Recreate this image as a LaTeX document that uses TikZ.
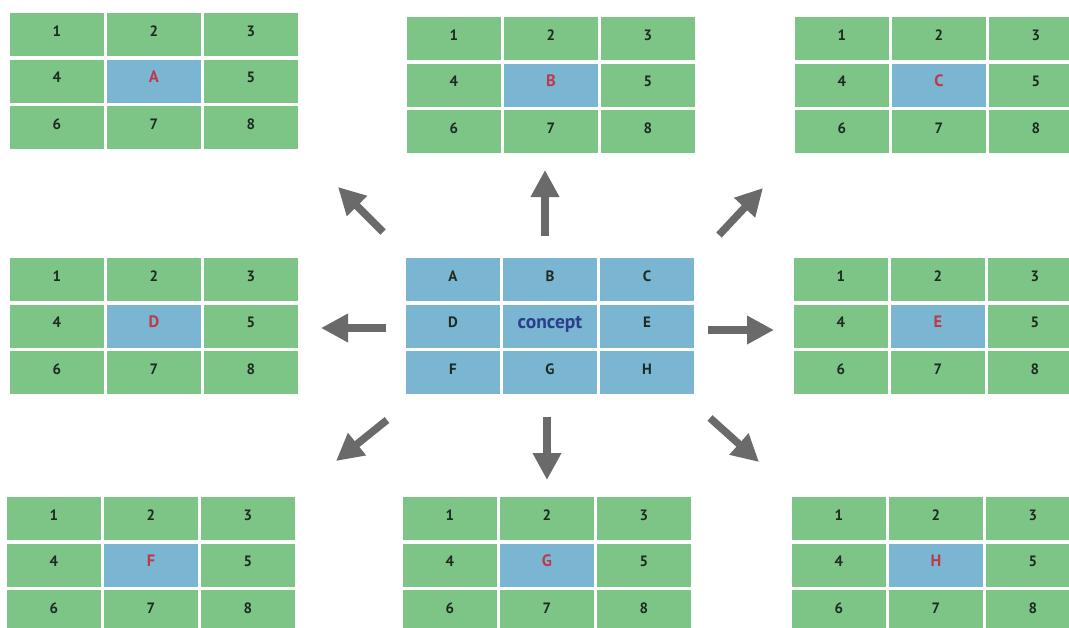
\documentclass[tikz,border=0pt]{standalone}
\usepackage{fontspec}
\setmainfont{PT Sans}
\usetikzlibrary{arrows.meta}
\definecolor{cellgreen}{HTML}{7DC587}
\definecolor{cellblue}{HTML}{7AB6D2}
\definecolor{labelred}{HTML}{C0394B}
\definecolor{conceptblue}{HTML}{2A3E8C}
\definecolor{textdark}{HTML}{1E2A22}
\definecolor{arrowgray}{HTML}{6A6A6A}
\tikzset{
  cell/.style={anchor=north west, minimum width=93.5pt, minimum height=43pt,
    inner sep=0pt, text height=10pt, text depth=7pt,
    font=\bfseries\fontsize{15}{15}\selectfont, text=textdark},
  gcell/.style={cell, fill=cellgreen},
  bcell/.style={cell, fill=cellblue},
  keycell/.style={cell, fill=cellblue, text=labelred, font=\bfseries\fontsize{16.5}{16.5}\selectfont},
  conceptcell/.style={cell, fill=cellblue, text=conceptblue, text depth=5pt, font=\bfseries\fontsize{19.5}{19.5}\selectfont},
  bigarrow/.style={draw=arrowgray, line width=7.5pt, -{Triangle[width=27pt,length=27pt]}}
}
\newcommand{\gridbox}[4]{%
  \node[gcell] (#1-1) at (#2,#3) {1};
  \node[gcell] (#1-2) at ({#2+97},#3) {2};
  \node[gcell] (#1-3) at ({#2+194},#3) {3};
  \node[gcell] (#1-4) at (#2,{#3+46.5}) {4};
  \node[keycell] (#1-5) at ({#2+97},{#3+46.5}) {#4};
  \node[gcell] (#1-6) at ({#2+194},{#3+46.5}) {5};
  \node[gcell] (#1-7) at (#2,{#3+93}) {6};
  \node[gcell] (#1-8) at ({#2+97},{#3+93}) {7};
  \node[gcell] (#1-9) at ({#2+194},{#3+93}) {8};
}
\begin{document}
\begin{tikzpicture}[x=1pt,y=-1pt]
\useasboundingbox (0,0) rectangle (1069,627);
\fill[white] (0,0) rectangle (1069,627);
\clip (0,0) rectangle (1069,627);
% outer grids
\gridbox{ga}{10}{13}{A}
\gridbox{gb}{407}{17}{B}
\gridbox{gc}{795}{17}{C}
\gridbox{gd}{10}{258}{D}
\gridbox{ge}{794}{258}{E}
\gridbox{gf}{7}{497}{F}
\gridbox{gg}{403}{497}{G}
\gridbox{gh}{792}{497}{H}
% center grid
\node[bcell] (c-1) at (406,258) {A};
\node[bcell] (c-2) at (503,258) {B};
\node[bcell] (c-3) at (600,258) {C};
\node[bcell] (c-4) at (406,304.5) {D};
\node[conceptcell] (c-5) at (503,304.5) {concept};
\node[bcell] (c-6) at (600,304.5) {E};
\node[bcell] (c-7) at (406,351) {F};
\node[bcell] (c-8) at (503,351) {G};
\node[bcell] (c-9) at (600,351) {H};
% arrow end points
\coordinate (ulT) at (383,232); \coordinate (ulH) at (338,187);
\coordinate (upT) at (545,236); \coordinate (upH) at (545,170);
\coordinate (urT) at (719,235); \coordinate (urH) at (763,188);
\coordinate (lT) at (386,328);  \coordinate (lH) at (321,328);
\coordinate (rT) at (708,330);  \coordinate (rH) at (774,330);
\coordinate (llT) at (387,420); \coordinate (llH) at (336,461);
\coordinate (dT) at (547,417);  \coordinate (dH) at (547,480);
\coordinate (lrT) at (710,418); \coordinate (lrH) at (759,462);
\draw[bigarrow] (ulT) -- (ulH);
\draw[bigarrow] (upT) -- (upH);
\draw[bigarrow] (urT) -- (urH);
\draw[bigarrow] (lT) -- (lH);
\draw[bigarrow] (rT) -- (rH);
\draw[bigarrow] (llT) -- (llH);
\draw[bigarrow] (dT) -- (dH);
\draw[bigarrow] (lrT) -- (lrH);
\end{tikzpicture}
\end{document}
